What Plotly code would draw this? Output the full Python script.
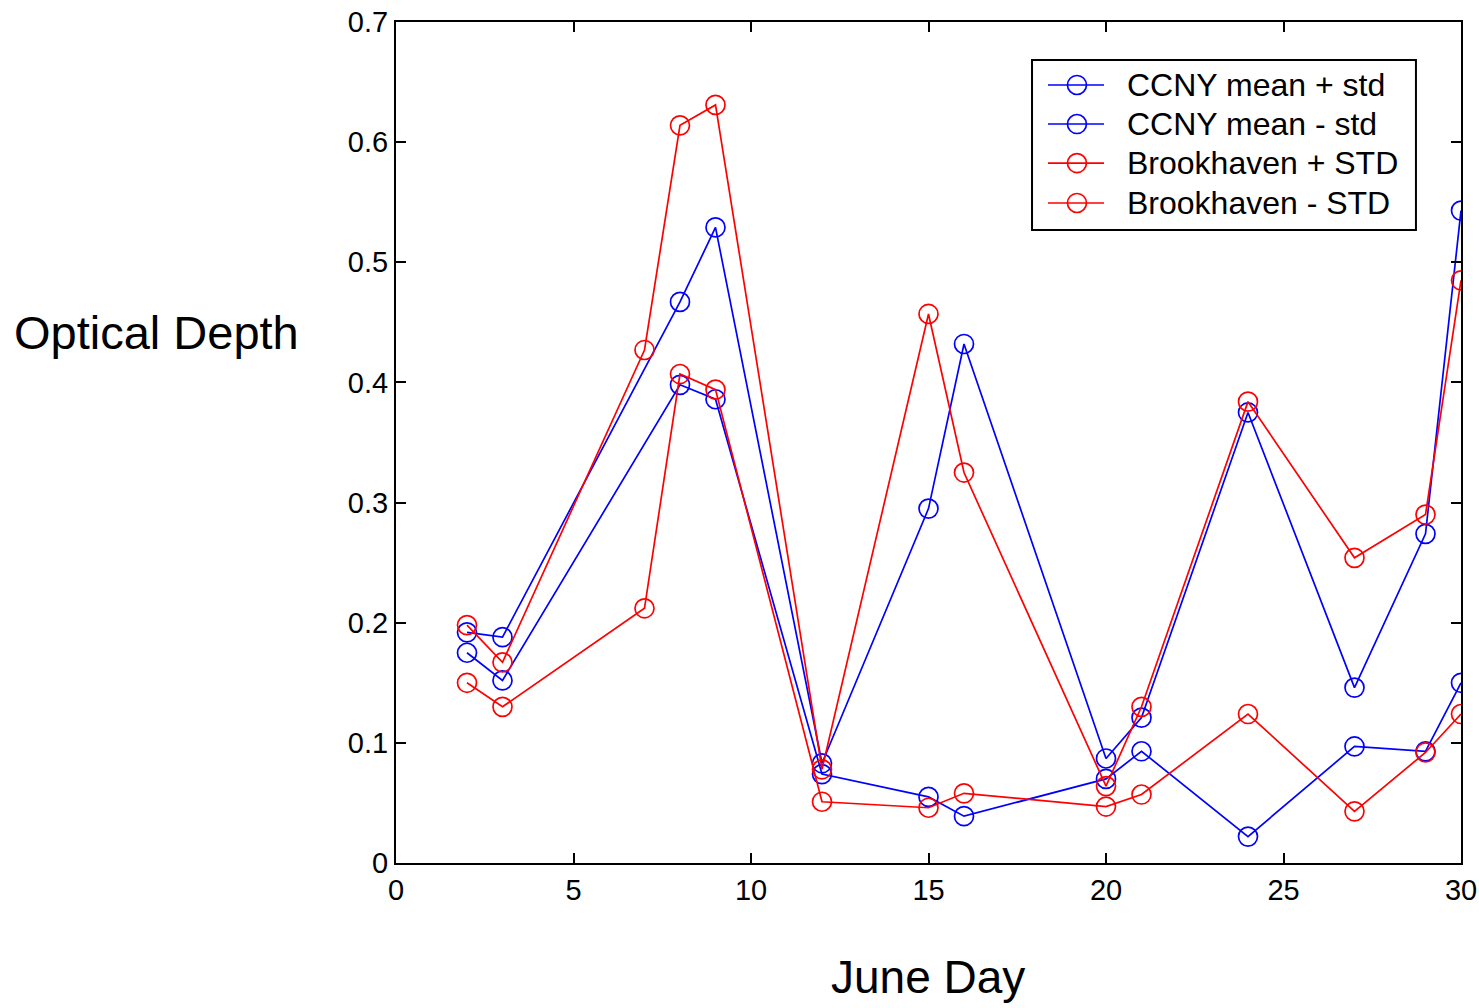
import plotly.graph_objects as go

# June days with measurements
days = [2, 3, 7, 8, 9, 12, 15, 16, 20, 21, 24, 27, 29, 30]
ccny_days = [2, 3, 8, 9, 12, 15, 16, 20, 21, 24, 27, 29, 30]

# Optical depth bands (mean +/- standard deviation)
ccny_plus = [0.192, 0.188, 0.467, 0.529, 0.083, 0.295, 0.432, 0.087, 0.121, 0.375, 0.146, 0.274, 0.543]
ccny_minus = [0.175, 0.152, 0.398, 0.386, 0.074, 0.055, 0.039, 0.070, 0.093, 0.022, 0.097, 0.093, 0.150]
bnl_plus = [0.198, 0.167, 0.427, 0.614, 0.631, 0.078, 0.457, 0.325, 0.064, 0.130, 0.384, 0.254, 0.290, 0.485]
bnl_minus = [0.150, 0.130, 0.212, 0.407, 0.394, 0.051, 0.046, 0.058, 0.047, 0.057, 0.124, 0.043, 0.092, 0.124]

x_ticks = [0, 5, 10, 15, 20, 25, 30]
y_ticks = [0, 0.1, 0.2, 0.3, 0.4, 0.5, 0.6, 0.7]
y_tick_text = ["0", "0.1", "0.2", "0.3", "0.4", "0.5", "0.6", "0.7"]

BLUE = "#0000ff"
RED = "#ff0000"
FONT = "Liberation Sans, Arial, sans-serif"

series = [
    ("CCNY mean + std", ccny_days, ccny_plus, BLUE),
    ("CCNY mean - std", ccny_days, ccny_minus, BLUE),
    ("Brookhaven + STD", days, bnl_plus, RED),
    ("Brookhaven - STD", days, bnl_minus, RED),
]

fig = go.Figure()
for name, xs, ys, color in series:
    fig.add_trace(go.Scatter(
        x=xs, y=ys, name=name, mode="lines+markers", showlegend=False,
        line=dict(color=color, width=1.7),
        marker=dict(symbol="circle-open", size=19, color=color,
                    line=dict(color=color, width=1.7)),
    ))

# Boxed legend in the upper right of the axes (paper coordinates)
shapes = [dict(type="rect", xref="paper", yref="paper",
               x0=0.5972, x1=0.9577, y0=0.7527, y1=0.9548,
               line=dict(color="black", width=2), fillcolor="white", layer="above")]
annotations = []
entry_y = [0.9251, 0.8787, 0.8323, 0.7848]
for (name, _, _, color), ey in zip(series, entry_y):
    shapes.append(dict(type="line", xref="paper", yref="paper",
                       x0=0.6122, x1=0.6648, y0=ey, y1=ey,
                       line=dict(color=color, width=1.7), layer="above"))
    shapes.append(dict(type="circle", xref="paper", yref="paper",
                       xsizemode="pixel", ysizemode="pixel",
                       xanchor=0.6394, yanchor=ey, x0=-9.5, x1=9.5, y0=-9.5, y1=9.5,
                       line=dict(color=color, width=1.7), layer="above"))
    annotations.append(dict(text=name, xref="paper", yref="paper", x=0.6845, y=ey,
                            xanchor="left", yanchor="middle", showarrow=False,
                            font=dict(family=FONT, size=32, color="black")))

annotations += [
    dict(text="Optical Depth", xref="paper", yref="paper", x=-0.3606, y=0.6313,
         xanchor="left", yanchor="middle", showarrow=False,
         font=dict(family=FONT, size=47, color="black")),
    dict(text="June Day", xref="paper", yref="paper", x=0.4995, y=-0.1355,
         xanchor="center", yanchor="middle", showarrow=False,
         font=dict(family=FONT, size=46, color="black")),
]

axis_font = dict(family=FONT, size=29, color="black")
axis_style = dict(
    showgrid=False, zeroline=False, automargin=False,
    showline=True, linecolor="black", linewidth=2, mirror="allticks",
    ticks="inside", ticklen=10, tickwidth=2, tickcolor="black",
    tickfont=axis_font,
)

fig.update_layout(
    width=1479, height=1008,
    margin=dict(l=396, r=18, t=22, b=145),
    paper_bgcolor="white", plot_bgcolor="white",
    showlegend=False,
    xaxis=dict(range=[0, 30], tickvals=x_ticks, ticktext=[str(v) for v in x_ticks], **axis_style),
    yaxis=dict(range=[0, 0.7], tickvals=y_ticks, ticktext=y_tick_text, **axis_style),
    shapes=shapes,
    annotations=annotations,
)

fig.write_html("out.html")
